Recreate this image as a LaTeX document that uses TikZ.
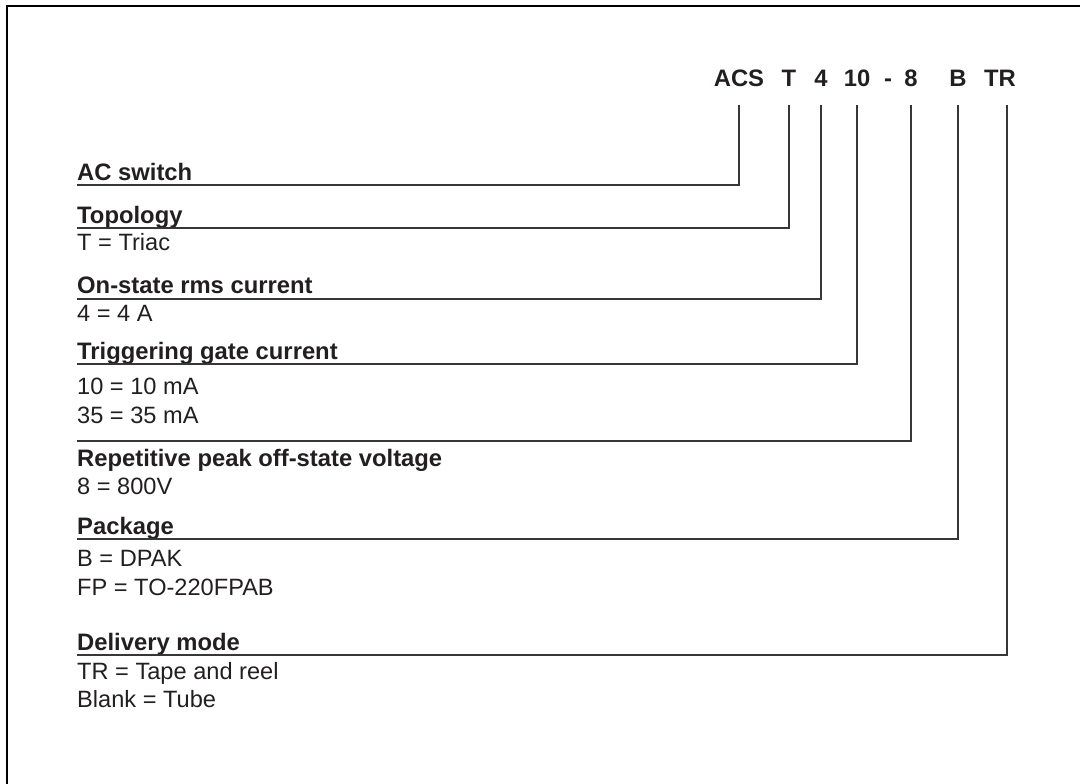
\documentclass[tikz,border=0pt]{standalone}
\usepackage{fontspec}
\setmainfont{Liberation Sans}
\definecolor{ink}{RGB}{35,31,32}
\definecolor{leadgray}{RGB}{55,55,55}
\tikzstyle{partno} = [inner sep=0, anchor=base, text=ink, font=\fontsize{23.8}{28}\selectfont\bfseries]
\tikzstyle{field} = [inner sep=0, anchor=base west, text=ink, font=\fontsize{23.8}{28}\selectfont\bfseries]
\tikzstyle{choice} = [inner sep=0, anchor=base west, text=ink, font=\fontsize{23.6}{28}\selectfont]
\tikzstyle{lead} = [line width=1.4pt, draw=leadgray]
\tikzstyle{frame} = [line width=2.6pt, draw=black]

\begin{document}
\begin{tikzpicture}[x=1pt, y=-1pt]
	\useasboundingbox (0,0) rectangle (1080,784);
	
	\draw[frame] (7,790) -- (7,6) -- (1090,6);
	
	% order code
	\node (acs) [partno] at (739,87) {ACS};
	\node (topo) [partno] at (789,87) {T};
	\node (rms) [partno] at (821,87) {4};
	\node (igt) [partno] at (857,87) {10};
	\node (dash) [partno] at (888,87) {-};
	\node (vdrm) [partno] at (911,87) {8};
	\node (pack) [partno] at (958,87) {B};
	\node (mode) [partno] at (1000,87) {TR};
	
	% fields
	\node (acsw) [field] at (77,180) {AC switch};
	
	\node (topology) [field] at (77,223) {Topology};
	\node (triac) [choice] at (77,250) {T = Triac};
	
	\node (current) [field] at (77,293) {On-state rms current};
	\node (fourA) [choice] at (77,321) {4 = 4 A};
	
	\node (gate) [field] at (77,359) {Triggering gate current};
	\node (gate10) [choice] at (77,394) {10 = 10 mA};
	\node (gate35) [choice] at (77,423) {35 = 35 mA};
	
	\node (voltage) [field] at (77,466) {Repetitive peak off-state voltage};
	\node (v800) [choice] at (77,494) {8 = 800V};
	
	\node (package) [field] at (77,534) {Package};
	\node (dpak) [choice] at (77,566) {B = DPAK};
	\node (fpab) [choice] at (77,595) {FP = TO-220FPAB};
	
	\node (delivery) [field] at (77,650) {Delivery mode};
	\node (reel) [choice] at (77,679) {TR = Tape and reel};
	\node (tube) [choice] at (77,707) {Blank = Tube};
	
	% leads
	\draw[lead] ([yshift=-18pt]acs.base) |- ([yshift=-5pt]acsw.base west);
	\draw[lead] ([yshift=-18pt]topo.base) |- ([yshift=-5pt]topology.base west);
	\draw[lead] ([yshift=-18pt]rms.base) |- ([yshift=-6pt]current.base west);
	\draw[lead] ([yshift=-18pt]igt.base) |- ([yshift=-5pt]gate.base west);
	\draw[lead] ([yshift=-18pt]vdrm.base) |- ([yshift=25pt]voltage.base west);
	\draw[lead] ([yshift=-18pt]pack.base) |- ([yshift=-5pt]package.base west);
	\draw[lead] ([xshift=7pt,yshift=-18pt]mode.base) |- ([yshift=-5pt]delivery.base west);
	
\end{tikzpicture}
\end{document}
